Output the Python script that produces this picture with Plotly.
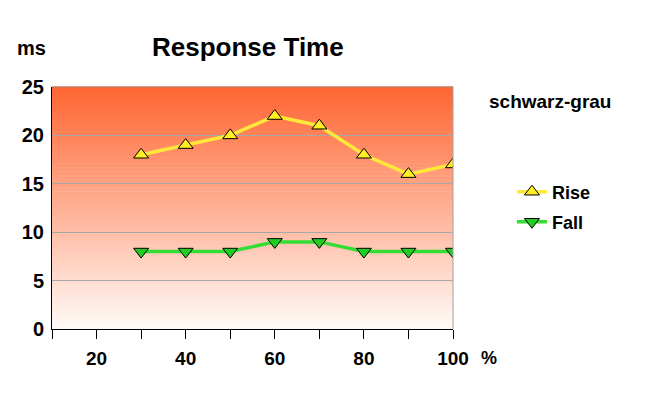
import plotly.graph_objects as go

x_vals = [30, 40, 50, 60, 70, 80, 90, 100]
rise = [18, 19, 20, 22, 21, 18, 16, 17]
fall = [8, 8, 8, 9, 9, 8, 8, 8]
x_ticks = [20, 40, 60, 80, 100]
y_ticks = [0, 5, 10, 15, 20, 25]

FONT = "Liberation Sans, Arial, sans-serif"

fig = go.Figure()
fig.add_trace(go.Scatter(
    x=x_vals, y=rise, name="Rise", mode="lines+markers",
    line=dict(color="#FFE83A", width=3.5),
    marker=dict(symbol="triangle-up", size=13, color="#FFEE22",
                line=dict(color="black", width=1)),
    legend="legend"))
fig.add_trace(go.Scatter(
    x=x_vals, y=fall, name="Fall", mode="lines+markers",
    line=dict(color="#33DD33", width=3.5),
    marker=dict(symbol="triangle-down", size=13, color="#22CC22",
                line=dict(color="black", width=1)),
    legend="legend2"))

# gradient background
n = 60
top = (255, 102, 51)
bot = (255, 250, 246)
shapes = []
for i in range(n):
    t = i / (n - 1)
    c = tuple(round(bot[k] + (top[k] - bot[k]) * t) for k in range(3))
    shapes.append(dict(type="rect", xref="x domain", yref="y domain",
                       x0=0, x1=1, y0=i / n, y1=(i + 1) / n + 0.002,
                       fillcolor="rgb(%d,%d,%d)" % c, line=dict(width=0),
                       layer="below"))
shapes.append(dict(type="line", xref="x domain", yref="y domain",
                   x0=1, x1=1, y0=0, y1=1, line=dict(color="#A0A0A0", width=1)))
shapes.append(dict(type="line", xref="x domain", yref="y domain",
                   x0=0, x1=1, y0=1, y1=1, line=dict(color="#B08070", width=1)))

fig.update_layout(
    width=650, height=395,
    margin=dict(l=44, r=205, t=79, b=74),
    paper_bgcolor="white", plot_bgcolor="rgba(0,0,0,0)",
    font=dict(family=FONT, color="black"),
    shapes=shapes,
    showlegend=True,
    legend=dict(x=1.147, y=0.566, xanchor="left", yanchor="middle",
                font=dict(size=18, family=FONT, weight="bold"),
                bgcolor="rgba(0,0,0,0)", itemwidth=30),
    legend2=dict(x=1.147, y=0.442, xanchor="left", yanchor="middle",
                 font=dict(size=18, family=FONT, weight="bold"),
                 bgcolor="rgba(0,0,0,0)", itemwidth=30),
    annotations=[
        dict(text="<b>Response Time</b>", xref="paper", yref="paper",
             x=0.489, y=1.165, showarrow=False,
             font=dict(size=26, family=FONT), xanchor="center", yanchor="middle"),
        dict(text="<b>ms</b>", xref="paper", yref="paper",
             x=-0.05, y=1.161, showarrow=False,
             font=dict(size=20, family=FONT), xanchor="center", yanchor="middle"),
        dict(text="<b>schwarz-grau</b>", xref="paper", yref="paper",
             x=1.242, y=0.942, showarrow=False,
             font=dict(size=19, family=FONT), xanchor="center", yanchor="middle"),
        dict(text="<b>%</b>", xref="paper", yref="paper",
             x=1.09, y=-0.12, showarrow=False,
             font=dict(size=18, family=FONT), xanchor="center", yanchor="middle"),
    ],
)

fig.update_xaxes(range=[10, 100], tickvals=x_ticks, ticktext=[str(v) for v in x_ticks],
                 minor=dict(dtick=10, tick0=10, ticks="outside", ticklen=9, tickcolor="black"),
                 ticks="outside", ticklen=9, tickcolor="black",
                 showgrid=False, showline=True, linecolor="black", linewidth=1,
                 tickfont=dict(size=19, family=FONT, weight="bold"), zeroline=False,
                 ticklabelstandoff=3)
fig.update_yaxes(range=[0, 25], tickvals=y_ticks, showgrid=True, gridcolor="#A8A8A8",
                 gridwidth=1, showline=True, linecolor="black", linewidth=1,
                 ticks="", tickfont=dict(size=20, family=FONT, weight="bold"),
                 zeroline=False, ticklabelstandoff=3)

fig.write_html("out.html")
